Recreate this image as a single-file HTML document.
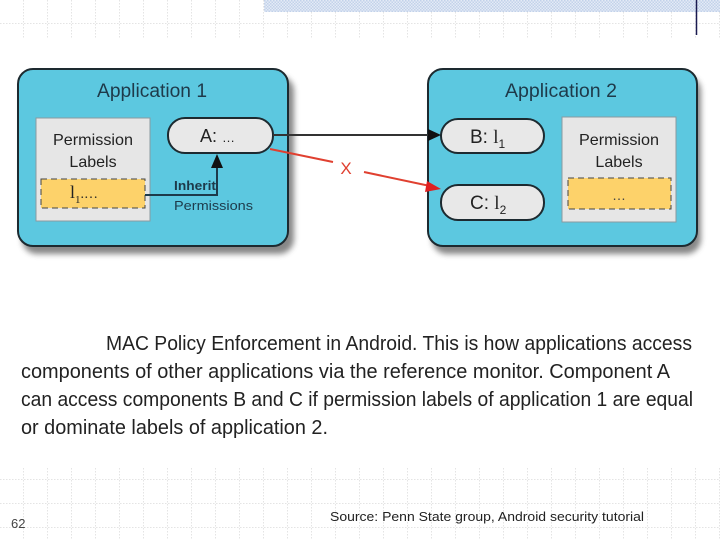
<!DOCTYPE html>
<html><head><meta charset="utf-8"><style>html,body{margin:0;padding:0;background:#fff}svg{display:block}</style></head>
<body>
<svg width="720" height="540" viewBox="0 0 720 540" xmlns="http://www.w3.org/2000/svg" font-family="Liberation Sans, sans-serif">
<defs>
<pattern id="g" width="24" height="24" patternUnits="userSpaceOnUse">
<path d="M24 0V24M0 24H24" stroke="#c8c8c8" stroke-width="1" stroke-dasharray="1.5 1.5" fill="none"/>
</pattern>
<pattern id="h" width="3" height="3" patternUnits="userSpaceOnUse">
<rect width="3" height="3" fill="#e4ebf6"/><rect width="1.5" height="1.5" fill="#c2d2ea"/><rect x="1.5" y="1.5" width="1.5" height="1.5" fill="#c2d2ea"/>
</pattern>
<filter id="s" x="-10%" y="-10%" width="120%" height="130%"><feGaussianBlur stdDeviation="3"/></filter>
</defs>
<rect x="0" y="0" width="720" height="38" fill="url(#g)"/>
<rect x="0" y="456" width="720" height="84" fill="url(#g)"/>
<rect x="0" y="456" width="720" height="12" fill="#fff"/>
<rect x="264" y="0" width="456" height="12" fill="url(#h)"/>
<line x1="696.5" y1="0" x2="696.5" y2="35" stroke="#1a1a50" stroke-width="1.5"/>

<!-- shadows -->
<rect x="22" y="76" width="272" height="178" rx="15" fill="#555" filter="url(#s)" opacity="0.7"/>
<rect x="432" y="76" width="269" height="178" rx="15" fill="#555" filter="url(#s)" opacity="0.7"/>
<!-- apps -->
<rect x="18" y="69" width="270" height="177" rx="15" fill="#5cc8e0" stroke="#1d2a30" stroke-width="2"/>
<rect x="428" y="69" width="269" height="177" rx="15" fill="#5cc8e0" stroke="#1d2a30" stroke-width="2"/>
<text x="152" y="97" font-size="19" text-anchor="middle" fill="#1e3a4a" textLength="110" lengthAdjust="spacingAndGlyphs">Application 1</text>
<text x="561" y="97" font-size="19" text-anchor="middle" fill="#1e3a4a" textLength="112" lengthAdjust="spacingAndGlyphs">Application 2</text>

<!-- perm box 1 -->
<rect x="36" y="118" width="114" height="103" fill="#e6e6e6" stroke="#8a9aa0"/>
<text x="93" y="145" font-size="16" text-anchor="middle" fill="#222" textLength="80" lengthAdjust="spacingAndGlyphs">Permission</text>
<text x="93" y="167" font-size="16" text-anchor="middle" fill="#222">Labels</text>
<rect x="41" y="179" width="104" height="29" fill="#fdd26a" stroke="#444" stroke-dasharray="6 4"/>
<text x="70" y="198" font-size="18" fill="#222" font-family="Liberation Serif, serif">l<tspan font-size="11" dy="5">1</tspan><tspan dy="-5" font-size="14">.…</tspan></text>

<!-- perm box 2 -->
<rect x="562" y="117" width="114" height="105" fill="#e6e6e6" stroke="#8a9aa0"/>
<text x="619" y="145" font-size="16" text-anchor="middle" fill="#222" textLength="80" lengthAdjust="spacingAndGlyphs">Permission</text>
<text x="619" y="167" font-size="16" text-anchor="middle" fill="#222">Labels</text>
<rect x="568" y="178" width="103" height="31" fill="#fdd26a" stroke="#444" stroke-dasharray="6 4"/>
<text x="619" y="200" font-size="14" text-anchor="middle" fill="#444">…</text>

<!-- pills -->
<rect x="168" y="118" width="105" height="35" rx="17" fill="#e8e8e8" stroke="#1d2a30" stroke-width="2"/>
<text x="200" y="142" font-size="18" fill="#222">A: <tspan font-size="13">…</tspan></text>
<rect x="441" y="119" width="103" height="34" rx="17" fill="#e8e8e8" stroke="#1d2a30" stroke-width="2"/>
<text x="470" y="143" font-size="19" fill="#222">B: <tspan font-family="Liberation Serif, serif">l</tspan><tspan font-size="12" dy="5">1</tspan></text>
<rect x="441" y="185" width="103" height="35" rx="17" fill="#e8e8e8" stroke="#1d2a30" stroke-width="2"/>
<text x="470" y="209" font-size="19" fill="#222">C: <tspan font-family="Liberation Serif, serif">l</tspan><tspan font-size="12" dy="5">2</tspan></text>

<!-- arrows -->
<line x1="273" y1="135" x2="430" y2="135" stroke="#333" stroke-width="2"/>
<polygon points="441,135 428,129 428,141" fill="#111"/>
<line x1="270" y1="149" x2="333" y2="162" stroke="#e04030" stroke-width="2"/>
<text x="346" y="174" font-size="17" text-anchor="middle" fill="#e04030">X</text>
<line x1="364" y1="172" x2="430" y2="186" stroke="#e04030" stroke-width="2"/>
<polygon points="441,189 427,181 425,192" fill="#e02020"/>
<polyline points="145,195 217,195 217,165" fill="none" stroke="#1d3a4a" stroke-width="2"/>
<polygon points="217,154 211,168 223,168" fill="#111"/>
<text x="174" y="190" font-size="13" font-weight="bold" fill="#1d3a4a" textLength="42" lengthAdjust="spacingAndGlyphs">Inherit</text>
<text x="174" y="210" font-size="13" fill="#1d3a4a" textLength="79" lengthAdjust="spacingAndGlyphs">Permissions</text>

<!-- caption -->
<g font-size="20" fill="#222">
<text x="106" y="350" textLength="586" lengthAdjust="spacingAndGlyphs">MAC Policy Enforcement in Android. This is how applications access</text>
<text x="21" y="378" textLength="649" lengthAdjust="spacingAndGlyphs">components of other applications via the reference monitor. Component A</text>
<text x="21" y="406" textLength="672" lengthAdjust="spacingAndGlyphs">can access components B and C if permission labels of application 1 are equal</text>
<text x="21" y="434" textLength="307" lengthAdjust="spacingAndGlyphs">or dominate labels of application 2.</text>
</g>
<text x="11" y="528" font-size="13" fill="#444">62</text>
<text x="330" y="521" font-size="13" fill="#222" textLength="314" lengthAdjust="spacingAndGlyphs">Source: Penn State group, Android security tutorial</text>
</svg>
</body></html>
